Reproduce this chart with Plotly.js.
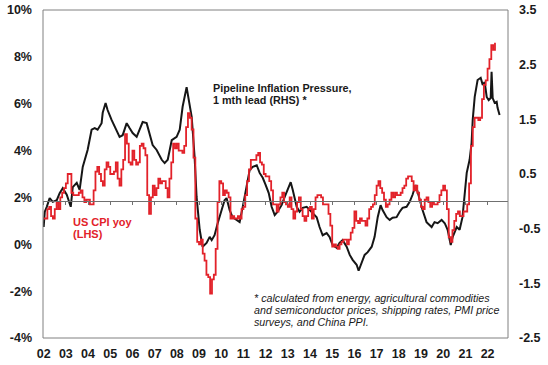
<!DOCTYPE html>
<html><head><meta charset="utf-8">
<script src="https://cdn.plot.ly/plotly-3.0.1.min.js"></script>
<style>html,body{margin:0;padding:0;background:#fff}#chart{width:548px;height:365px}</style>
</head><body><div id="chart"></div>
<script>
// US CPI yoy (%), monthly from Jan 2002 (LHS)
const cpiStartYear = 2002;
const cpiValues = [
 1.1,1.1,1.5,1.6,1.2,1.1,1.5,1.8,1.5,2.0,2.2,2.4,
 2.6,3.0,3.0,2.2,2.1,2.1,2.1,2.2,2.3,2.0,1.8,1.9,
 1.9,1.7,1.7,2.3,3.1,3.3,3.0,2.7,2.5,3.2,3.5,3.3,
 3.0,3.0,3.1,3.5,2.8,2.5,3.2,3.6,4.7,4.3,3.5,3.4,
 4.0,3.6,3.4,3.5,4.2,4.3,4.1,3.8,2.1,1.3,2.0,2.5,
 2.1,2.4,2.8,2.6,2.7,2.7,2.4,2.0,2.8,3.5,4.3,4.1,
 4.3,4.0,4.0,3.9,4.2,5.0,5.6,5.4,4.9,3.7,1.1,0.1,
 0.0,0.2,-0.4,-0.7,-1.3,-1.4,-2.1,-1.5,-1.3,-0.2,1.8,2.7,
 2.6,2.1,2.3,2.2,2.0,1.1,1.2,1.1,1.1,1.2,1.1,1.5,
 1.6,2.1,2.7,3.2,3.6,3.6,3.6,3.8,3.9,3.5,3.4,3.0,
 2.9,2.9,2.7,2.3,1.7,1.7,1.4,1.7,2.0,2.2,1.8,1.7,
 1.6,2.0,1.5,1.1,1.4,1.8,2.0,1.5,1.2,1.0,1.2,1.5,
 1.6,1.1,1.5,2.0,2.1,2.1,2.0,1.7,1.7,1.7,1.3,0.8,
 -0.1,0.0,-0.1,-0.2,0.0,0.1,0.2,0.2,0.0,0.2,0.5,0.7,
 1.4,1.0,0.9,1.1,1.0,1.0,0.8,1.1,1.5,1.6,1.7,2.1,
 2.5,2.7,2.4,2.2,1.9,1.6,1.7,1.9,2.2,2.0,2.2,2.1,
 2.1,2.2,2.4,2.5,2.8,2.9,2.9,2.7,2.3,2.5,2.2,1.9,
 1.6,1.5,1.9,2.0,1.8,1.6,1.8,1.7,1.7,1.8,2.1,2.3,
 2.5,2.3,1.5,0.3,0.1,0.6,1.0,1.3,1.4,1.2,1.2,1.4,
 1.4,1.7,2.6,4.2,5.0,5.4,5.4,5.3,5.4,6.2,6.8,7.0,
 7.5,7.9,8.5,8.3,8.6
];

// Pipeline Inflation Pressure, 1 mth lead (RHS) — decimal year and index value
const pipelineDates = [
 2002.00,2002.05,2002.14,2002.27,2002.41,2002.59,2002.72,2002.86,2003.04,2003.17,2003.22,2003.31,2003.49,2003.62,2003.76,2003.98,
 2004.16,2004.30,2004.43,2004.61,2004.66,2004.79,2004.88,2005.06,2005.20,2005.33,2005.42,2005.56,2005.74,2005.87,2006.01,2006.19,
 2006.32,2006.46,2006.64,2006.78,2006.91,2007.09,2007.32,2007.45,2007.59,2007.77,2007.99,2008.13,2008.26,2008.44,2008.53,2008.67,
 2008.80,2008.89,2009.03,2009.12,2009.16,2009.34,2009.48,2009.57,2009.70,2009.84,2010.02,2010.15,2010.24,2010.38,2010.51,2010.69,
 2010.83,2010.96,2011.15,2011.28,2011.42,2011.60,2011.73,2011.87,2012.00,2012.14,2012.27,2012.41,2012.54,2012.72,2012.86,2012.99,
 2013.13,2013.22,2013.40,2013.53,2013.67,2013.85,2013.98,2014.12,2014.30,2014.43,2014.57,2014.75,2014.88,2015.02,2015.20,2015.33,
 2015.47,2015.65,2015.79,2015.92,2016.10,2016.19,2016.33,2016.46,2016.60,2016.78,2016.91,2017.05,2017.18,2017.27,2017.45,2017.59,
 2017.72,2017.90,2018.04,2018.17,2018.35,2018.49,2018.62,2018.76,2018.85,2018.94,2019.07,2019.25,2019.48,2019.61,2019.75,2019.93,
 2020.07,2020.20,2020.34,2020.43,2020.61,2020.74,2020.87,2021.06,2021.19,2021.28,2021.33,2021.42,2021.51,2021.55,2021.69,2021.78,
 2021.87,2021.96,2022.05,2022.14,2022.18,2022.23,2022.32,2022.41,2022.45,2022.54
];
const pipelineValues = [
 -0.47,-0.19,-0.10,0.06,-0.01,0.02,0.15,0.24,0.12,-0.04,-0.10,0.26,0.34,0.21,0.63,0.94,
 1.31,1.34,1.31,1.43,1.62,1.80,1.67,1.49,1.36,1.25,1.18,1.21,1.43,1.34,1.25,1.18,
 1.31,1.45,1.43,1.21,1.03,0.94,0.76,0.70,0.76,1.12,1.18,1.31,1.73,2.09,1.85,1.54,
 0.81,0.08,-0.52,-0.74,-0.83,-0.76,-0.65,-0.71,-0.62,-0.40,-0.16,0.02,0.06,-0.16,-0.29,-0.34,
 -0.38,-0.12,0.26,0.57,0.63,0.66,0.52,0.43,0.30,0.15,-0.10,-0.25,-0.19,-0.07,0.08,0.21,
 0.35,0.21,-0.10,-0.19,-0.12,-0.10,-0.16,-0.21,-0.29,-0.47,-0.62,-0.58,-0.65,-0.80,-0.85,-0.76,
 -0.71,-0.83,-0.98,-1.07,-1.16,-1.27,-1.13,-0.98,-0.93,-0.83,-0.65,-0.29,-0.07,-0.16,-0.29,-0.34,
 -0.30,-0.29,-0.19,-0.12,-0.10,-0.01,0.12,0.30,0.17,0.02,-0.16,-0.38,-0.47,-0.38,-0.40,-0.34,
 -0.40,-0.52,-0.80,-0.65,-0.47,-0.52,-0.29,0.52,0.76,1.07,1.49,1.91,2.16,2.22,2.26,2.13,
 2.18,1.91,1.85,1.89,2.37,1.89,1.80,1.82,1.71,1.58
];

const yearTicks = [2002,2003,2004,2005,2006,2007,2008,2009,2010,2011,2012,2013,2014,2015,2016,2017,2018,2019,2020,2021,2022];
const yearLabels = ['02','03','04','05','06','07','08','09','10','11','12','13','14','15','16','17','18','19','20','21','22'];
const lhsTicks = [-4,-2,0,2,4,6,8,10];
const lhsLabels = ['-4%','-2%','0%','2%','4%','6%','8%','10%'];
const rhsTicks = [-2.5,-1.5,-0.5,0.5,1.5,2.5,3.5];
const rhsLabels = ['-2.5','-1.5','-0.5','0.5','1.5','2.5','3.5'];

const cpiDates = cpiValues.map((v,i)=> cpiStartYear + i/12);

const FONT = 'Liberation Sans, Arial, sans-serif';
const TXT = '#1a1a1a';
const RED = '#e2222a';
const xRange = [2001.97, 2022.92];
const rhsRange = [-2.5, 3.5];
const lhsRange = [-4, 10];

const traces = [
 {x: pipelineDates, y: pipelineValues, type:'scatter', mode:'lines', xaxis:'x', yaxis:'y',
  line:{color:'#161616', width:2}, hoverinfo:'skip', showlegend:false},
 {x: cpiDates, y: cpiValues, type:'scatter', mode:'lines', xaxis:'x', yaxis:'y2',
  line:{color:RED, width:1.8, shape:'hv'}, hoverinfo:'skip', showlegend:false},
 {x: [], y: [], type:'scatter', mode:'lines', xaxis:'x2', yaxis:'y', showlegend:false, hoverinfo:'skip'}
];

const px = (p)=> (p-43)/465;
const py = (p)=> (338-p)/328;
function ann(text, xp, yp, size, color, extra){
  return Object.assign({text:text, xref:'paper', yref:'paper', x:px(xp), y:py(yp), xanchor:'left', yanchor:'middle',
    showarrow:false, align:'left', borderpad:0, font:{family:FONT, size:size, color:color}}, extra||{});
}

const layout = {
  width:548, height:365,
  margin:{l:43, r:40, t:10, b:27, pad:0},
  paper_bgcolor:'#ffffff', plot_bgcolor:'#ffffff',
  showlegend:false,
  xaxis:{range:xRange, anchor:'free', position:(0-rhsRange[0])/(rhsRange[1]-rhsRange[0]),
    showline:true, linecolor:'#707070', linewidth:1, ticks:'outside', ticklen:3, tickwidth:1, tickcolor:'#707070',
    tickvals:yearTicks, showticklabels:false, showgrid:false, zeroline:false, fixedrange:true},
  xaxis2:{range:xRange, overlaying:'x', anchor:'y', side:'bottom', tickvals:yearTicks, ticktext:yearLabels,
    showline:false, ticks:'', showgrid:false, zeroline:false, ticklabelstandoff:6,
    tickfont:{family:FONT, size:12.5, color:TXT, weight:'bold'}},
  yaxis:{range:rhsRange, side:'right', tickvals:rhsTicks, ticktext:rhsLabels, showgrid:false, zeroline:false,
    showline:false, ticks:'', ticklabelstandoff:10, tickfont:{family:FONT, size:12.5, color:TXT, weight:'bold'}},
  yaxis2:{range:lhsRange, side:'left', overlaying:'y', tickvals:lhsTicks, ticktext:lhsLabels, showgrid:false, zeroline:false,
    showline:false, ticks:'', ticklabelstandoff:10, tickfont:{family:FONT, size:12.5, color:TXT, weight:'bold'}},
  shapes:[{type:'rect', xref:'paper', yref:'paper', x0:0, x1:1, y0:0, y1:1, line:{color:'#808080', width:1}, layer:'above'}],
  annotations:[
    ann('<b>Pipeline Inflation Pressure,</b>', 212, 88, 10.8, TXT),
    ann('<b>1 mth lead (RHS) *</b>', 212, 100, 10.8, TXT),
    ann('<b>US CPI yoy</b>', 72, 222, 11, RED),
    ann('<b>(LHS)</b>', 72, 234, 11, RED),
    ann('<i>* calculated from energy, agricultural commodities</i>', 253, 298, 10.7, TXT),
    ann('<i>and semiconductor prices, shipping rates, PMI price</i>', 253, 310, 10.7, TXT),
    ann('<i>surveys, and China PPI.</i>', 253, 322, 10.7, TXT)
  ]
};

Plotly.newPlot('chart', traces, layout, {staticPlot:true, displayModeBar:false});
</script></body></html>
